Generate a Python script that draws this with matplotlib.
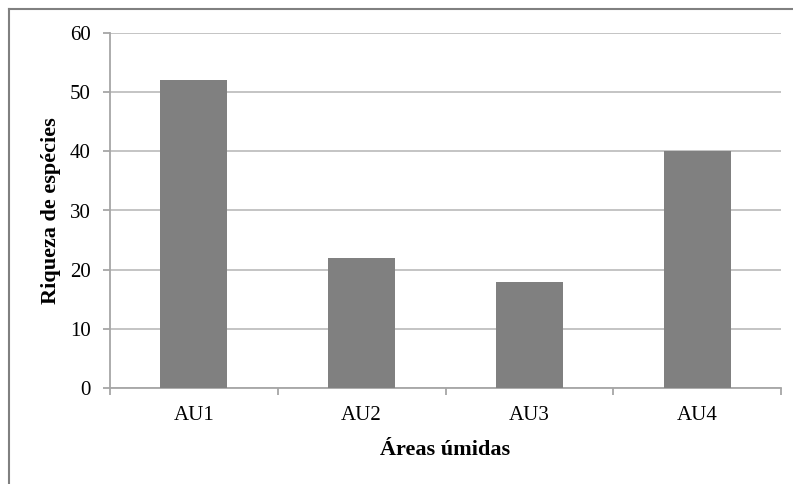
import matplotlib
matplotlib.use("Agg")
import matplotlib.pyplot as plt
from matplotlib.lines import Line2D
import numpy as np

categories = ["AU1", "AU2", "AU3", "AU4"]
richness = [52, 22, 18, 40]
y_ticks = [0, 10, 20, 30, 40, 50, 60]

plt.rcParams['font.family'] = ['Liberation Serif', 'DejaVu Serif']

W, H = 793, 484
fig = plt.figure(figsize=(W / 100, H / 100), dpi=100)
ax = fig.add_axes([110 / W, 1 - 388 / H, (781 - 110) / W, (388 - 33) / H])

x = np.arange(len(categories))
ax.bar(x, richness, width=0.4, color="#808080", zorder=3)

ax.set_xlim(-0.5, len(categories) - 0.5)
ax.set_ylim(0, 60)
ax.set_yticks(y_ticks)
ax.yaxis.grid(True, color="#bfbfbf", linewidth=1.3, zorder=0)

# category labels centred, tick marks on category boundaries
ax.set_xticks(x)
ax.set_xticklabels(categories, fontsize=15)
ax.set_xticks(np.arange(-0.5, len(categories)), minor=True)
ax.tick_params(axis="x", which="major", length=0, pad=13)
ax.tick_params(axis="x", which="minor", length=5, color="#a6a6a6", width=1.3)
ax.tick_params(axis="y", length=5, color="#a6a6a6", width=1.3, labelsize=15, pad=9)

for side in ("top", "right"):
    ax.spines[side].set_visible(False)
for side in ("left", "bottom"):
    ax.spines[side].set_color("#a6a6a6")
    ax.spines[side].set_linewidth(1.3)

ax.set_ylabel("Riqueza de espécies", fontsize=16, fontweight="bold", labelpad=6)
ax.set_xlabel("Áreas úmidas", fontsize=16, fontweight="bold", labelpad=11)

# outer chart frame
fig.add_artist(Line2D([9 / W, 1], [1 - 9 / H, 1 - 9 / H], color="#808080", linewidth=1.5))
fig.add_artist(Line2D([9 / W, 9 / W], [0, 1 - 9 / H], color="#808080", linewidth=1.5))

fig.savefig("out.png", dpi=100)
